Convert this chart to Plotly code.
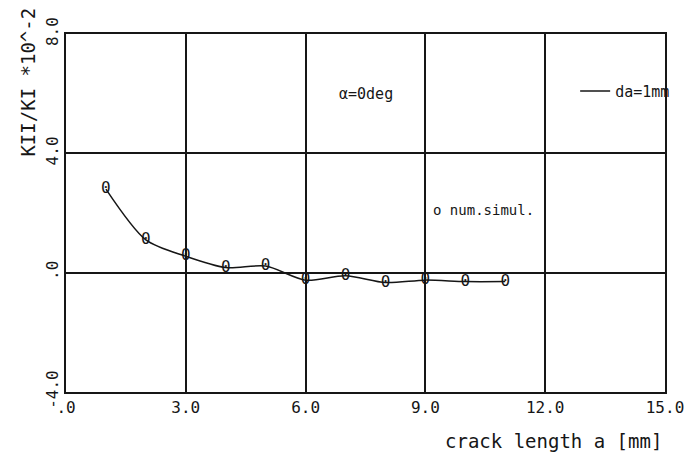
import plotly.graph_objects as go

crack_length = [1, 2, 3, 4, 5, 6, 7, 8, 9, 10, 11]
kii_ki = [2.8, 1.1, 0.55, 0.17, 0.22, -0.25, -0.1, -0.33, -0.25, -0.3, -0.3]

x_ticks = [0, 3, 6, 9, 12, 15]
x_ticktext = [".0", "3.0", "6.0", "9.0", "12.0", "15.0"]
y_ticks = [-4, 0, 4, 8]
y_ticktext = ["-4.0", ".0", "4.0", "8.0"]

FONT = "DejaVu Sans Mono"
INK = "#161616"

fig = go.Figure()
fig.add_trace(go.Scatter(
    x=crack_length, y=kii_ki, mode="lines", name="da=1mm",
    line=dict(color=INK, width=1.5, shape="spline", smoothing=0.8),
    showlegend=True,
))
fig.add_trace(go.Scatter(
    x=crack_length, y=kii_ki, mode="text", text=["0"] * len(crack_length),
    textposition="middle center",
    textfont=dict(family=FONT, size=16, color=INK),
    showlegend=False, hoverinfo="skip",
))

fig.add_annotation(x=7.5, y=6.0, xref="x", yref="y", text="α=0deg", showarrow=False,
                   font=dict(family=FONT, size=15, color=INK))
fig.add_annotation(x=9.15, y=2.1, xref="x", yref="y", text="o num.simul.", showarrow=False,
                   xanchor="left", font=dict(family=FONT, size=14, color=INK))
fig.add_annotation(x=0.998, y=0, xref="paper", yref="paper", yanchor="top", xanchor="right",
                   text="crack length a [mm]", showarrow=False,
                   yshift=-36, font=dict(family=FONT, size=19, color=INK))
fig.add_annotation(x=-0.065, y=1.0, xref="paper", yref="paper", xanchor="center", yanchor="top",
                   text="KII/KI *10^-2", showarrow=False, textangle=-90, yshift=28,
                   font=dict(family=FONT, size=19, color=INK))

fig.update_layout(
    width=696, height=468,
    margin=dict(l=66, r=18, t=34, b=76),
    paper_bgcolor="white", plot_bgcolor="white",
    font=dict(family=FONT, color=INK, size=15),
    legend=dict(x=0.85, y=0.84, xanchor="left", yanchor="middle",
                bgcolor="rgba(0,0,0,0)", font=dict(family=FONT, size=15, color=INK),
                itemwidth=30),
    xaxis=dict(range=[0, 15], tickvals=x_ticks, ticktext=x_ticktext,
               showgrid=True, gridcolor=INK, gridwidth=1.5,
               showline=True, linecolor=INK, linewidth=1.6, mirror=True,
               zeroline=False, ticks="", ticklabeloverflow="allow",
               tickfont=dict(family=FONT, size=16, color=INK)),
    yaxis=dict(range=[-4, 8], tickvals=y_ticks, ticktext=y_ticktext,
               showgrid=True, gridcolor=INK, gridwidth=1.5,
               showline=True, linecolor=INK, linewidth=1.6, mirror=True,
               zeroline=False, ticks="", tickangle=-90, ticklabeloverflow="allow",
               tickfont=dict(family=FONT, size=16, color=INK)),
)

fig.write_html("out.html")
